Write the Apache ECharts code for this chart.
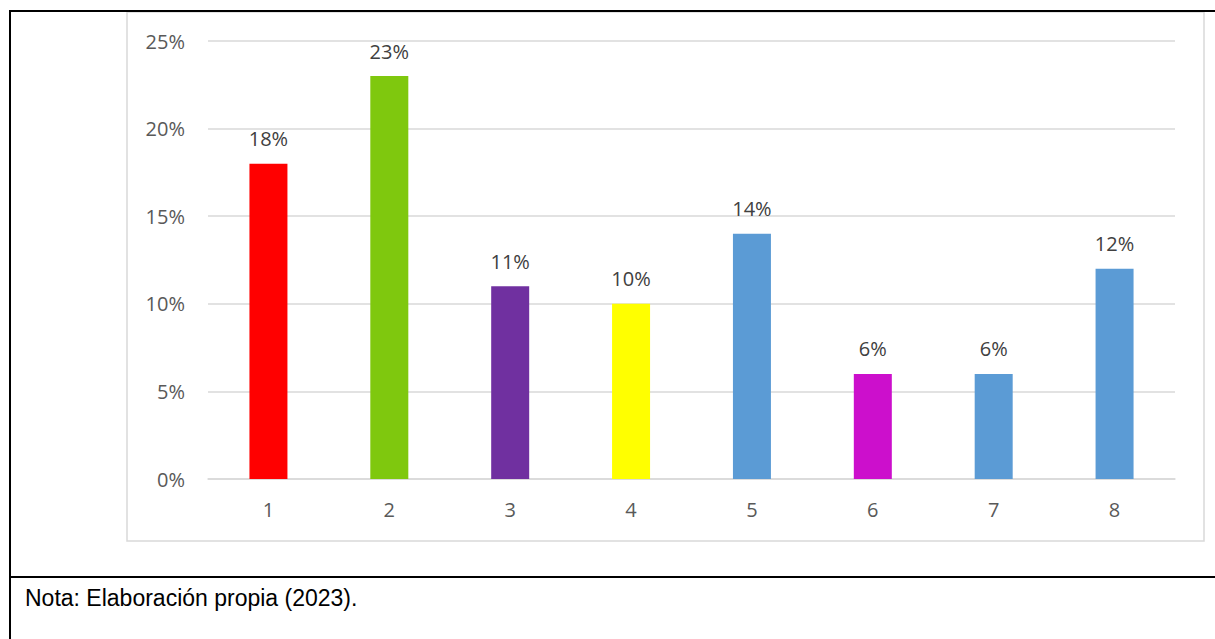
<!DOCTYPE html>
<html>
<head>
<meta charset="utf-8">
<script src="https://cdn.jsdelivr.net/npm/echarts@6/dist/echarts.min.js"></script>
<style>
html,body{margin:0;padding:0;background:#fff;}
#chart{width:1215px;height:639px;}
</style>
</head>
<body>
<div id="chart"></div>
<script>
var categories = ['1','2','3','4','5','6','7','8'];
var values = [18, 23, 11, 10, 14, 6, 6, 12];
var barColors = ['#FF0000','#7FC80E','#7030A0','#FFFF00','#5B9BD5','#CC0FCC','#5B9BD5','#5B9BD5'];
var yTicks = [0, 5, 10, 15, 20, 25];
var noteText = 'Nota: Elaboración propia (2023).';

var chart = echarts.init(document.getElementById('chart'), null, {renderer: 'svg'});
var font = '"Open Sans", Calibri, sans-serif';
chart.setOption({
  backgroundColor: '#fff',
  animation: false,
  grid: {left: 208, right: 40, top: 41, bottom: 160},
  graphic: [
    {type: 'rect', shape: {x: 127, y: 12, width: 1077, height: 529}, style: {fill: 'none', stroke: '#d9d9d9', lineWidth: 1.5}, z: -1},
    {type: 'line', shape: {x1: 10, y1: 11, x2: 1215, y2: 11}, style: {stroke: '#000', lineWidth: 2}},
    {type: 'line', shape: {x1: 10, y1: 10, x2: 10, y2: 639}, style: {stroke: '#000', lineWidth: 2}},
    {type: 'line', shape: {x1: 10, y1: 577, x2: 1215, y2: 577}, style: {stroke: '#000', lineWidth: 2}},
    {type: 'text', left: 25, top: 586, style: {text: noteText, font: '23px "Liberation Sans", Arial, sans-serif', fill: '#000'}}
  ],
  xAxis: {
    type: 'category',
    data: categories,
    axisLine: {lineStyle: {color: '#d9d9d9', width: 1.5}},
    axisTick: {show: false},
    axisLabel: {color: '#595959', fontSize: 20, fontFamily: font, margin: 20}
  },
  yAxis: {
    type: 'value',
    min: yTicks[0],
    max: yTicks[yTicks.length - 1],
    interval: 5,
    axisLine: {show: false},
    axisTick: {show: false},
    splitLine: {lineStyle: {color: '#d9d9d9', width: 1.5}},
    axisLabel: {color: '#595959', fontSize: 20, fontFamily: font, margin: 23, formatter: '{value}%'}
  },
  series: [{
    type: 'bar',
    barWidth: 38,
    data: values.map(function (v, i) { return {value: v, itemStyle: {color: barColors[i]}}; }),
    label: {show: true, position: 'top', distance: 15, color: '#404040', fontSize: 20, fontFamily: font, formatter: '{c}%'}
  }]
});
</script>
</body>
</html>
